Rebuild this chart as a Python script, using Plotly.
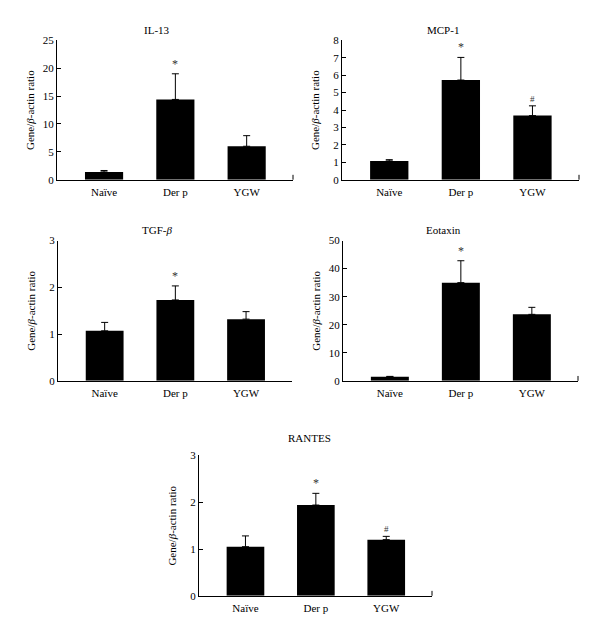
import plotly.graph_objects as go

# 基因表現資料 (Gene/β-actin ratio)
categories = ["Naïve", "Der p", "YGW"]

il13 = [1.4, 14.4, 6.0]
il13_err = [0.25, 4.6, 1.9]
il13_mark = ["", "*", ""]

mcp1 = [1.08, 5.72, 3.68]
mcp1_err = [0.07, 1.3, 0.56]
mcp1_mark = ["", "*", "#"]

tgfb = [1.07, 1.73, 1.32]
tgfb_err = [0.18, 0.3, 0.16]
tgfb_mark = ["", "*", ""]

eotaxin = [1.5, 35.0, 23.7]
eotaxin_err = [0.1, 7.8, 2.5]
eotaxin_mark = ["", "*", ""]

rantes = [1.05, 1.94, 1.2]
rantes_err = [0.23, 0.25, 0.07]
rantes_mark = ["", "*", "#"]

il13_ticks = [0, 5, 10, 15, 20, 25]
mcp1_ticks = [0, 1, 2, 3, 4, 5, 6, 7, 8]
tgfb_ticks = [0, 1, 2, 3]
eotaxin_ticks = [0, 10, 20, 30, 40, 50]
rantes_ticks = [0, 1, 2, 3]

W, H = 600, 643
FONT = "Liberation Serif, Times New Roman, serif"


def px_x(a, b):
    return [a / W, b / W]


def px_y(top, bottom):
    return [1 - bottom / H, 1 - top / H]


# 每個子圖的版面 (像素位置)
panels = [
    dict(title="IL-13", vals=il13, err=il13_err, marks=il13_mark, ticks=il13_ticks,
         xd=px_x(57, 293), yd=px_y(35, 177), tx=0.425, ty=8, end_tick=True),
    dict(title="MCP-1", vals=mcp1, err=mcp1_err, marks=mcp1_mark, ticks=mcp1_ticks,
         xd=px_x(342, 579), yd=px_y(35, 177), tx=0.426, ty=8, end_tick=True),
    dict(title="TGF-<i>β</i>", vals=tgfb, err=tgfb_err, marks=tgfb_mark, ticks=tgfb_ticks,
         xd=px_x(58, 292), yd=px_y(239, 382), tx=0.423, ty=9, end_tick=False),
    dict(title="Eotaxin", vals=eotaxin, err=eotaxin_err, marks=eotaxin_mark, ticks=eotaxin_ticks,
         xd=px_x(343, 578), yd=px_y(239, 382), tx=0.426, ty=9, end_tick=True),
    dict(title="RANTES", vals=rantes, err=rantes_err, marks=rantes_mark, ticks=rantes_ticks,
         xd=px_x(199, 432), yd=px_y(458, 601), tx=0.476, ty=15, end_tick=True),
]

fig = go.Figure()
layout = dict(
    width=W, height=H, margin=dict(l=0, r=0, t=0, b=0),
    paper_bgcolor="white", plot_bgcolor="white", showlegend=False,
    font=dict(family=FONT, size=11, color="black"),
)
annotations = []
shapes = []

for i, p in enumerate(panels, start=1):
    sfx = "" if i == 1 else str(i)
    xa, ya = "x" + sfx, "y" + sfx

    fig.add_trace(go.Bar(
        x=categories, y=p["vals"], width=0.535,
        marker=dict(color="black", line=dict(width=0)),
        error_y=dict(type="data", symmetric=False, array=p["err"], arrayminus=[0, 0, 0],
                     color="black", thickness=1, width=3.5),
        xaxis=xa, yaxis=ya, hoverinfo="skip",
    ))

    layout["xaxis" + sfx] = dict(
        domain=p["xd"], anchor=ya, type="category", range=[-0.66, 2.65],
        showline=True, linecolor="black", linewidth=1, ticks="", showgrid=False,
        zeroline=False, ticklabelstandoff=2, tickfont=dict(size=11),
    )
    layout["yaxis" + sfx] = dict(
        domain=p["yd"], anchor=xa, range=[0, p["ticks"][-1]], tickvals=p["ticks"],
        showline=True, linecolor="black", linewidth=1, ticks="inside", ticklen=4,
        tickcolor="black", showgrid=False, zeroline=False, tickfont=dict(size=11),
    )

    # 標題
    annotations.append(dict(
        text=p["title"], xref=xa + " domain", yref=ya + " domain", x=p["tx"], y=1,
        xanchor="center", yanchor="bottom", yshift=p["ty"] - 6, showarrow=False,
        font=dict(size=11),
    ))
    # Y 軸標題
    annotations.append(dict(
        text="Gene/<i>β</i>-actin ratio", xref=xa + " domain", yref=ya + " domain",
        x=0, y=0.5, xshift=-27, xanchor="center", yanchor="middle", textangle=-90,
        showarrow=False, font=dict(size=11),
    ))
    # 顯著性標記
    for c, v, e, m in zip(categories, p["vals"], p["err"], p["marks"]):
        if m:
            annotations.append(dict(
                text=m, xref=xa, yref=ya, x=c, y=v + e, yanchor="bottom",
                yshift=1 if m == "*" else 0, showarrow=False,
                font=dict(size=12 if m == "*" else 9, color="#333"),
            ))
    # X 軸右端小刻度
    if p["end_tick"]:
        shapes.append(dict(
            type="line", xref=xa + " domain", yref=ya + " domain",
            x0=1, x1=1, y0=0, y1=0.035, line=dict(color="black", width=1),
        ))

layout["annotations"] = annotations
layout["shapes"] = shapes
fig.update_layout(**layout)

# 去掉頁面預設邊距，讓圖從左上角開始；隱藏工具列
fig.write_html("out.html", config={"displayModeBar": False},
               post_script="document.body.style.margin='0';")
